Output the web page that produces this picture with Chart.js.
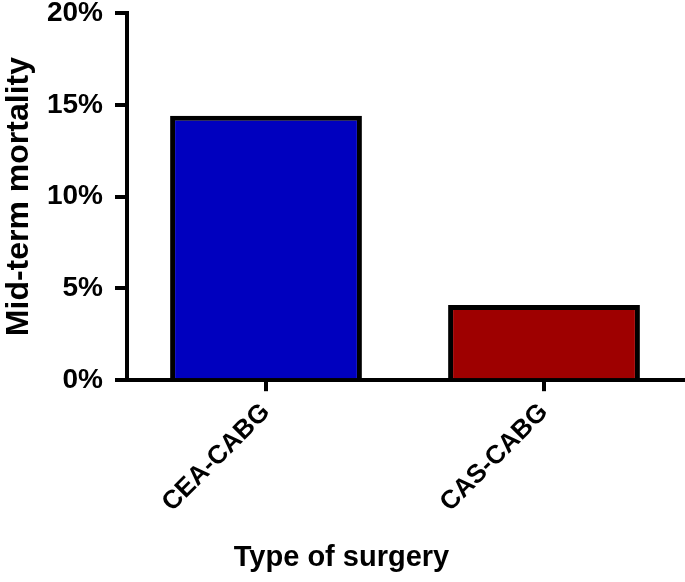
<!DOCTYPE html>
<html>
<head>
<meta charset="utf-8">
<script src="https://cdn.jsdelivr.net/npm/chart.js@4"></script>
<style>
  html, body { margin: 0; padding: 0; background: #fff; }
  #wrap { width: 685px; height: 582px; }
</style>
</head>
<body>
<div id="wrap"><canvas id="c" width="685" height="582"></canvas></div>
<script>
const categories = ['CEA-CABG', 'CAS-CABG'];
const mortality = [14.4, 4.1];
const barColors = ['#0000BF', '#9E0000'];
const yTicks = [0, 5, 10, 15, 20];

const FONT = "'Liberation Sans', Arial, Helvetica, sans-serif";

new Chart(document.getElementById('c'), {
  type: 'bar',
  data: {
    labels: categories,
    datasets: [{
      data: mortality,
      backgroundColor: barColors,
      borderColor: '#000',
      borderWidth: 5,
      borderSkipped: 'start',
      categoryPercentage: 1,
      barPercentage: 0.69
    }]
  },
  options: {
    responsive: false,
    animation: false,
    layout: { padding: { top: 0, right: 2, left: 0, bottom: 0 } },
    plugins: {
      legend: { display: false },
      tooltip: { enabled: false },
      title: {
        display: true,
        position: 'bottom',
        text: 'Type of surgery',
        color: '#000',
        font: { family: FONT, size: 29, weight: 'bold', lineHeight: 1.2 },
        padding: { top: 10, bottom: 7 }
      }
    },
    scales: {
      x: {
        grid: {
          display: true,
          drawOnChartArea: false,
          drawTicks: true,
          offset: false,
          tickLength: 11,
          lineWidth: 4,
          color: '#000'
        },
        border: { display: true, color: '#000', width: 4 },
        ticks: {
          color: '#000',
          maxRotation: 45,
          minRotation: 45,
          padding: 6,
          font: { family: FONT, size: 26, weight: 'bold' }
        },
        afterFit: (s) => { s.height = 150; }
      },
      y: {
        min: 0,
        max: 20,
        afterBuildTicks: (s) => { s.ticks = yTicks.map(v => ({ value: v })); },
        grid: {
          display: true,
          drawOnChartArea: false,
          drawTicks: true,
          tickLength: 12,
          lineWidth: 4,
          color: '#000'
        },
        border: { display: true, color: '#000', width: 4 },
        ticks: {
          color: '#000',
          padding: 12,
          callback: (v) => v + '%',
          font: { family: FONT, size: 28, weight: 'bold', lineHeight: 1.0 }
        },
        title: {
          display: true,
          text: 'Mid-term mortality',
          color: '#000',
          padding: { top: 1, bottom: 0 },
          font: { family: FONT, size: 32, weight: 'bold', lineHeight: 1.15 }
        },
        afterFit: (s) => { s.width = 127; s.paddingTop = 13; }
      }
    }
  }
});
</script>
</body>
</html>
